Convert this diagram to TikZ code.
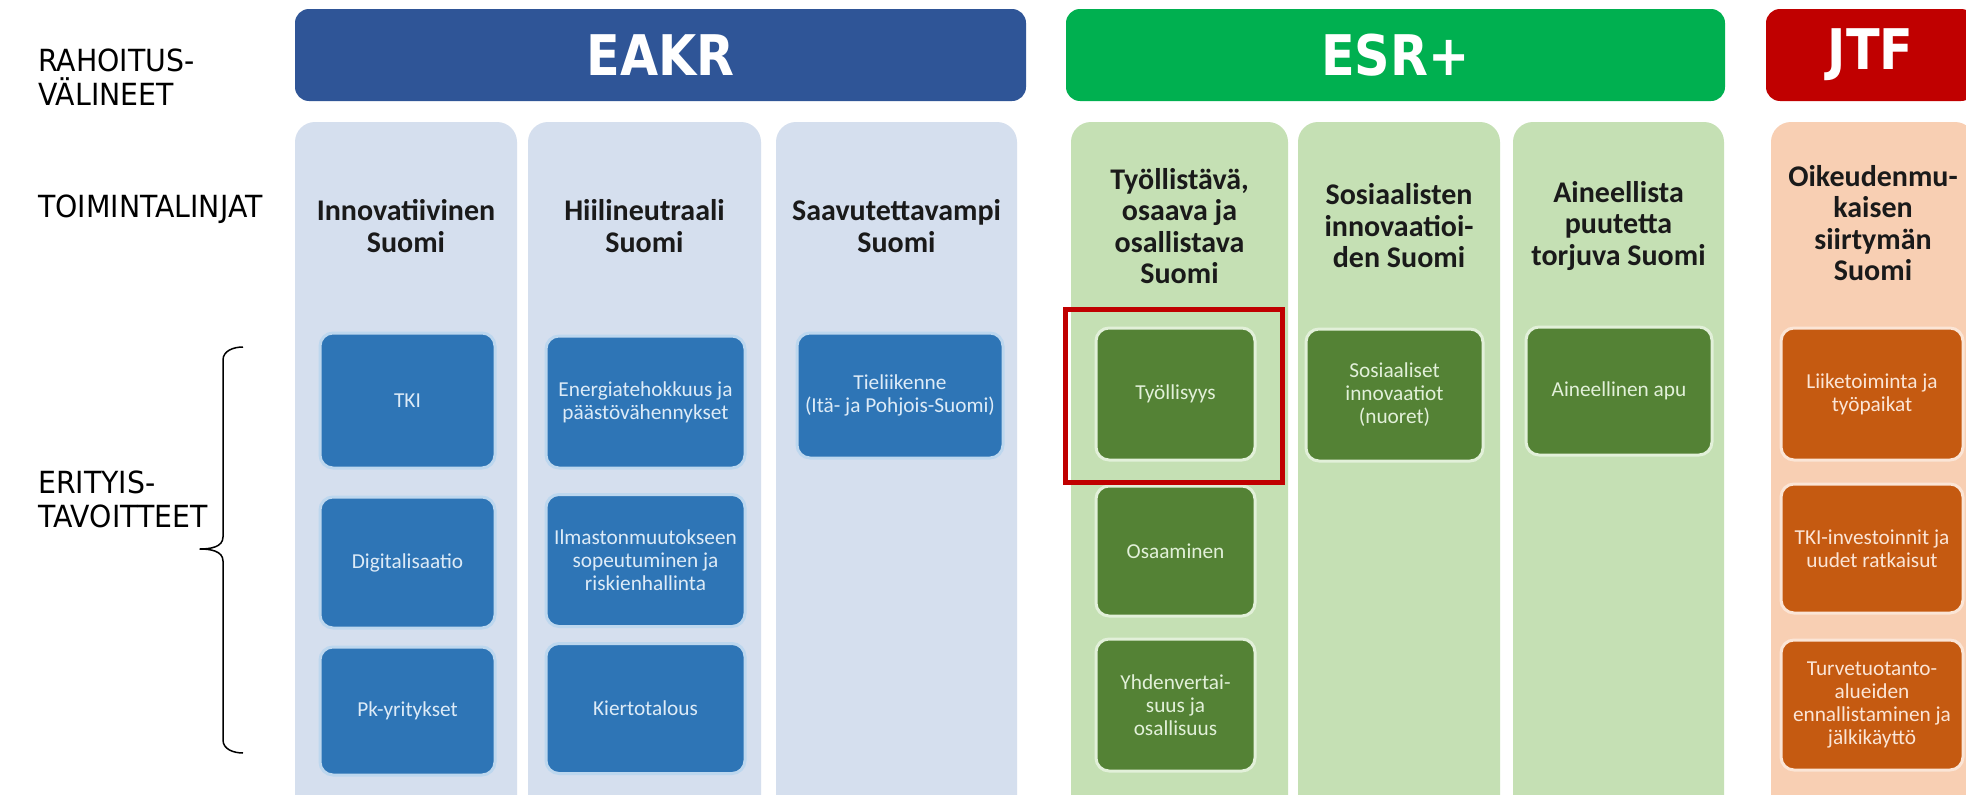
\documentclass[tikz,border=0pt]{standalone}
\usepackage{fontspec}
\setmainfont{Carlito}
\newfontfamily\lblfont[FakeStretch=0.93]{DejaVu Sans}
\newfontfamily\banfont[FakeStretch=0.88]{DejaVu Sans}
\definecolor{eakrban}{HTML}{2F5597}
\definecolor{esrban}{HTML}{00B050}
\definecolor{jtfban}{HTML}{C00000}
\definecolor{eakrcol}{HTML}{D5DFEE}
\definecolor{esrcol}{HTML}{C5E0B4}
\definecolor{jtfcol}{HTML}{F8CFB3}
\definecolor{bluebox}{HTML}{2E75B6}
\definecolor{blueedge}{HTML}{BDD7EE}
\definecolor{bluetext}{HTML}{DDEBF7}
\definecolor{greenbox}{HTML}{548235}
\definecolor{greenedge}{HTML}{E2F0D9}
\definecolor{greentext}{HTML}{E2F0D9}
\definecolor{orangebox}{HTML}{C55A11}
\definecolor{orangeedge}{HTML}{FBE5D6}
\definecolor{orangetext}{HTML}{FBE5D6}
\definecolor{hdrtext}{HTML}{1A1A1A}
\definecolor{redframe}{HTML}{C00000}
\begin{document}
\begin{tikzpicture}[x=1pt,y=-1pt,
  banner/.style={draw=none, rounded corners=14pt, text=white, inner sep=0pt,
    font=\banfont\bfseries\fontsize{56}{60}\selectfont},
  colbg/.style={draw=none, rounded corners=20pt, inner sep=0pt, minimum height=708pt},
  hdr/.style={align=center, inner sep=0pt, text=hdrtext,
    font=\bfseries\fontsize{30}{31.5}\selectfont},
  obox/.style={rounded corners=13pt, line width=3pt, align=center, inner sep=0pt,
    font=\fontsize{21.3}{23}\selectfont},
  bbox/.style={obox, fill=bluebox, draw=blueedge, text=bluetext},
  gbox/.style={obox, fill=greenbox, draw=greenedge, text=greentext},
  rbox/.style={obox, fill=orangebox, draw=orangeedge, text=orangetext},
  lbl/.style={anchor=west, align=left, inner sep=0pt, text=black,
    font=\lblfont\fontsize{30.5}{34}\selectfont},
  sz/.style 2 args={minimum width=#1pt, minimum height=#2pt}
]
\useasboundingbox (0,0) rectangle (1966,795);
\clip (0,0) rectangle (1966,795);
\fill[white] (0,0) rectangle (1966,795);

% left labels
\node[lbl] (lrah) at (38,77) {RAHOITUS-\\VÄLINEET};
\node[lbl] (ltoi) at (38,209) {TOIMINTALINJAT};
\node[lbl] (leri) at (38,499) {ERITYIS-\\TAVOITTEET};

% brace
\draw[line width=1.5pt, line join=round] (243,347) to[out=180,in=90] (223,360) -- (223,537)
  to[out=-90,in=0] (200,549) to[out=0,in=90] (223,561) -- (223,740) to[out=-90,in=180] (243,753);

% banners
\node[banner, fill=eakrban, sz={731}{92}] (bEAKR) at (660.5,55) {EAKR};
\node[banner, fill=esrban, sz={659}{92}] (bESR) at (1395.5,55) {ESR+};
\node[banner, fill=jtfban, sz={209}{92}] (bJTF) at (1870.5,55) {JTF};

% columns
\node[colbg, fill=eakrcol, minimum width=222pt] (c1) at (406,476) {};
\node[colbg, fill=eakrcol, minimum width=233pt] (c2) at (644.5,476) {};
\node[colbg, fill=eakrcol, minimum width=241pt] (c3) at (896.5,476) {};
\node[colbg, fill=esrcol, minimum width=217pt] (c4) at (1179.5,476) {};
\node[colbg, fill=esrcol, minimum width=202pt] (c5) at (1399,476) {};
\node[colbg, fill=esrcol, minimum width=211pt] (c6) at (1618.5,476) {};
\node[colbg, fill=jtfcol, minimum width=204pt] (c7) at (1873,476) {};

% column headers
\node[hdr] (h1) at (406,226) {Innovatiivinen\\Suomi};
\node[hdr] (h2) at (644.5,226) {Hiilineutraali\\Suomi};
\node[hdr] (h3) at (896.5,226) {Saavutettavampi\\Suomi};
\node[hdr] (h4) at (1179.5,226) {Työllistävä,\\osaava ja\\osallistava\\Suomi};
\node[hdr] (h5) at (1399,226) {Sosiaalisten\\innovaatioi-\\den Suomi};
\node[hdr] (h6) at (1618.5,226) {Aineellista\\puutetta\\torjuva Suomi};
\node[hdr] (h7) at (1873,223) {Oikeudenmu-\\kaisen\\siirtymän\\Suomi};

% EAKR boxes
\node[bbox, sz={175}{135}] (tki) at (407.5,400.5) {TKI};
\node[bbox, sz={175}{131}] (digi) at (407.5,562.5) {Digitalisaatio};
\node[bbox, sz={175}{128}] (pk) at (407.5,711) {Pk-yritykset};
\node[bbox, sz={199}{132}] (energ) at (645.5,402) {Energiatehokkuus ja\\päästövähennykset};
\node[bbox, sz={199}{132}] (ilmasto) at (645.5,560.5) {Ilmastonmuutokseen\\sopeutuminen ja\\riskienhallinta};
\node[bbox, sz={199}{130}] (kierto) at (645.5,708.5) {Kiertotalous};
\node[bbox, sz={206}{125}] (tieli) at (900,395.5) {Tieliikenne\\(Itä- ja Pohjois-Suomi)};

% ESR+ boxes
\node[gbox, sz={159}{132}] (tyoll) at (1175.5,394) {Työllisyys};
\node[gbox, sz={159}{130}] (osaam) at (1175.5,551) {Osaaminen};
\node[gbox, sz={159}{132}] (yhden) at (1175.5,705) {Yhdenvertai-\\suus ja\\osallisuus};
\node[gbox, sz={177}{132}] (sosi) at (1394.5,395) {Sosiaaliset\\innovaatiot\\(nuoret)};
\node[gbox, sz={186}{128}] (aineel) at (1619,391) {Aineellinen apu};

% JTF boxes
\node[rbox, sz={182}{132}] (liike) at (1872,394) {Liiketoiminta ja\\työpaikat};
\node[rbox, sz={182}{129}] (tkiinv) at (1872,548.5) {TKI-investoinnit ja\\uudet ratkaisut};
\node[rbox, sz={182}{130}] (turve) at (1872,705) {Turvetuotanto-\\alueiden\\ennallistaminen ja\\jälkikäyttö};

% red highlight frame
\node[draw=redframe, line width=5pt, inner sep=0pt, sz={217}{173}] (hl) at (1174,396) {};
\end{tikzpicture}
\end{document}
